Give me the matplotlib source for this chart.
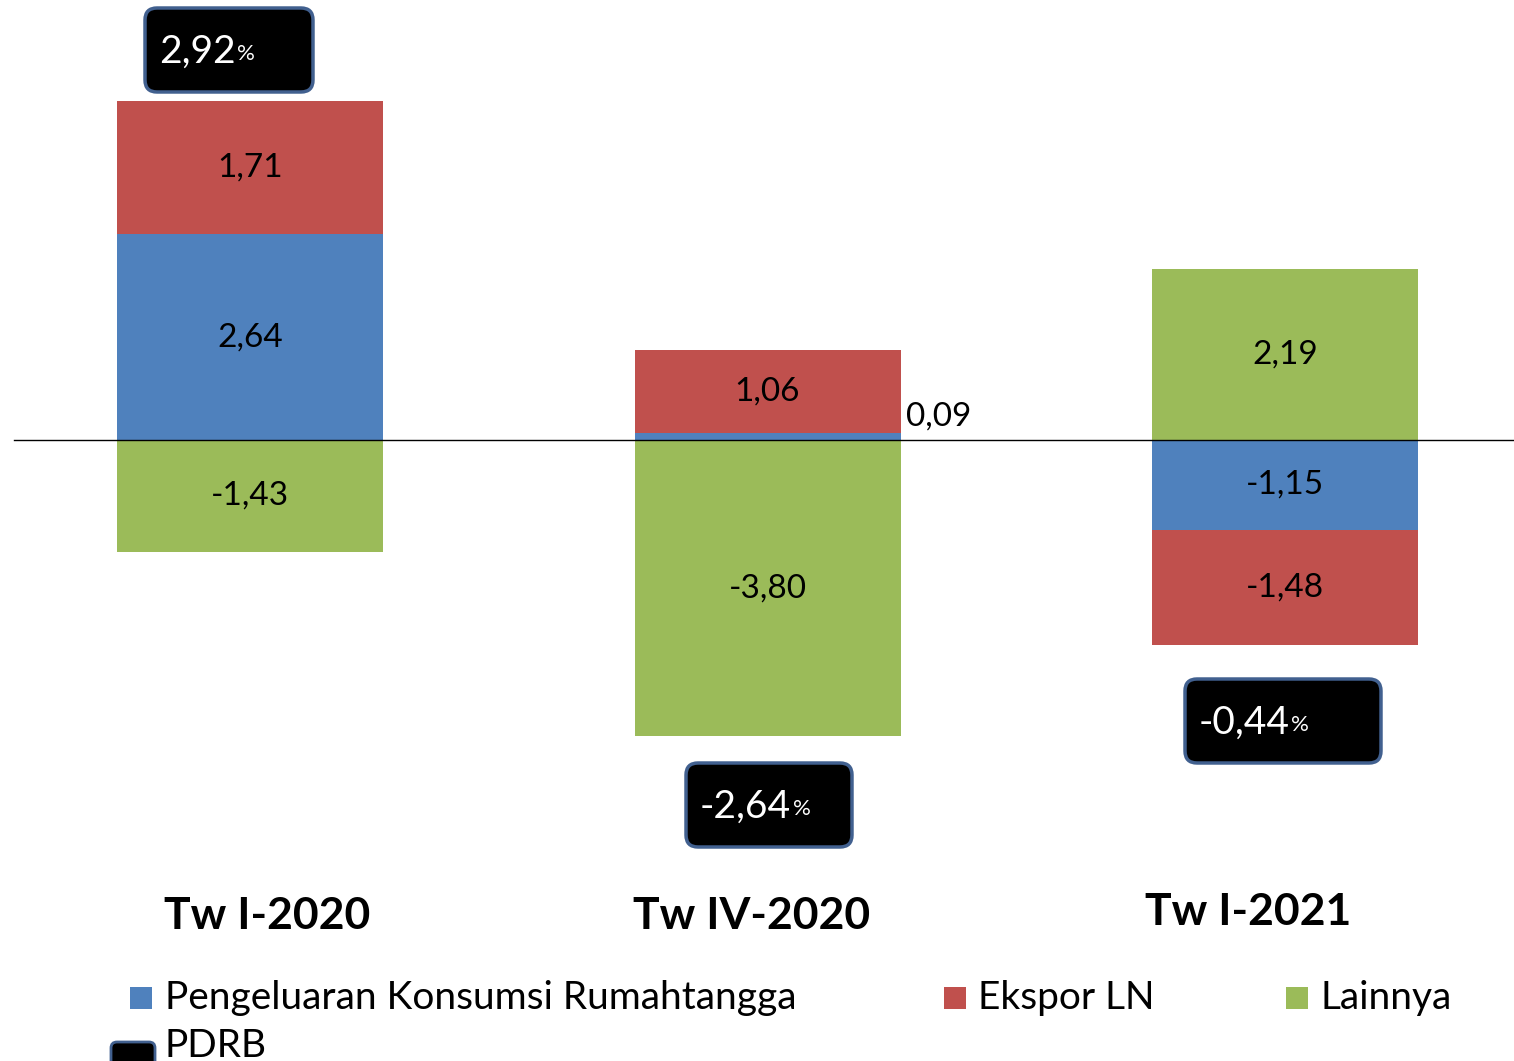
import matplotlib
matplotlib.use("Agg")
import matplotlib.pyplot as plt
from matplotlib.patches import FancyBboxPatch, Rectangle
from matplotlib.text import Annotation
from matplotlib.transforms import IdentityTransform
import numpy as np

plt.rcParams['font.family'] = ['Lato', 'DejaVu Sans']

categories = ["Tw I-2020", "Tw IV-2020", "Tw I-2021"]
series_names = ["Pengeluaran Konsumsi Rumahtangga", "Ekspor LN", "Lainnya"]
konsumsi = [2.64, 0.09, -1.15]
ekspor = [1.71, 1.06, -1.48]
lainnya = [-1.43, -3.80, 2.19]
pdrb = [2.92, -2.64, -0.44]
colors = ["#4F81BD", "#C0504D", "#9BBB59"]

W, H = 1514, 1061
DPI = 100
fig = plt.figure(figsize=(W / DPI, H / DPI), dpi=DPI)
ax = fig.add_axes([0, 0, 1, 1])
ax.axis('off')

S = 78.0          # px per unit
Y0 = 440.0        # px (from top) of zero line
X0, DX = 250.0, 517.5
ax.set_xlim(-X0 / DX, (W - X0) / DX)
ax.set_ylim(-(H - Y0) / S, Y0 / S)

def fmt(v):
    return f"{v:.2f}".replace(".", ",")

x = np.arange(len(categories))
width = 266 / DX
series = [konsumsi, ekspor, lainnya]
pos_base = np.zeros(len(x))
neg_base = np.zeros(len(x))
for name, vals, col in zip(series_names, series, colors):
    vals = np.array(vals)
    bottoms = np.where(vals >= 0, pos_base, neg_base)
    ax.bar(x, vals, width, bottom=bottoms, color=col, label=name, zorder=2)
    for xi, v, b in zip(x, vals, bottoms):
        if abs(v) < 0.3:
            ax.text(xi + width / 2 + 0.01, b + v + 0.02, fmt(v), ha='left', va='bottom',
                    fontsize=24, color='black', zorder=5)
        else:
            ax.text(xi, b + v / 2, fmt(v), ha='center', va='center',
                    fontsize=24, color='black', zorder=5)
    pos_base = pos_base + np.where(vals >= 0, vals, 0)
    neg_base = neg_base + np.where(vals < 0, vals, 0)

ax.axhline(0, xmin=14 / W, xmax=1, color='black', lw=1.0, zorder=4)

# category labels
cat_px = [(267, 916), (752, 916), (1248, 912)]
for lab, (px, py) in zip(categories, cat_px):
    fig.text(px / W, 1 - py / H, lab, ha='center', va='center', fontsize=32,
             fontweight='bold', color='black')

# PDRB boxes
idt = IdentityTransform()
boxes = [(145, 8, 168, 84), (686, 763, 166, 84), (1185, 679, 196, 84)]
for v, (bx, by, bw, bh) in zip(pdrb, boxes):
    p = FancyBboxPatch((bx, H - by - bh), bw, bh,
                       boxstyle="round,pad=0,rounding_size=12",
                       transform=idt, facecolor='black', edgecolor='#41608F',
                       linewidth=2.5, zorder=6)
    fig.add_artist(p)
    t = fig.text((bx + 14) / W, 1 - (by + bh / 2 + 2) / H, fmt(v), ha='left',
                 va='center', fontsize=28, color='white', zorder=7)
    pct = Annotation("%", xy=(1, 0), xycoords=t, xytext=(1, 4),
                     textcoords='offset points', ha='left', va='bottom',
                     fontsize=16, color='white', zorder=8, annotation_clip=False)
    fig.add_artist(pct)

# legend (manual)
leg_items = [(130, 165, series_names[0], colors[0]),
             (944, 978, series_names[1], colors[1]),
             (1286, 1320, series_names[2], colors[2])]
ly = 998
for sx, tx, lab, col in leg_items:
    fig.add_artist(Rectangle((sx, H - ly - 11), 22, 22, transform=idt,
                             facecolor=col, edgecolor='none'))
    fig.text(tx / W, 1 - ly / H, lab, ha='left', va='center', fontsize=28)
fig.add_artist(FancyBboxPatch((111, H - 1075), 44, 33,
                              boxstyle="round,pad=0,rounding_size=6",
                              transform=idt, facecolor='black',
                              edgecolor='#41608F', linewidth=2))
fig.text(165 / W, 1 - 1046 / H, "PDRB", ha='left', va='center', fontsize=28)

fig.savefig("out.png", dpi=DPI)
